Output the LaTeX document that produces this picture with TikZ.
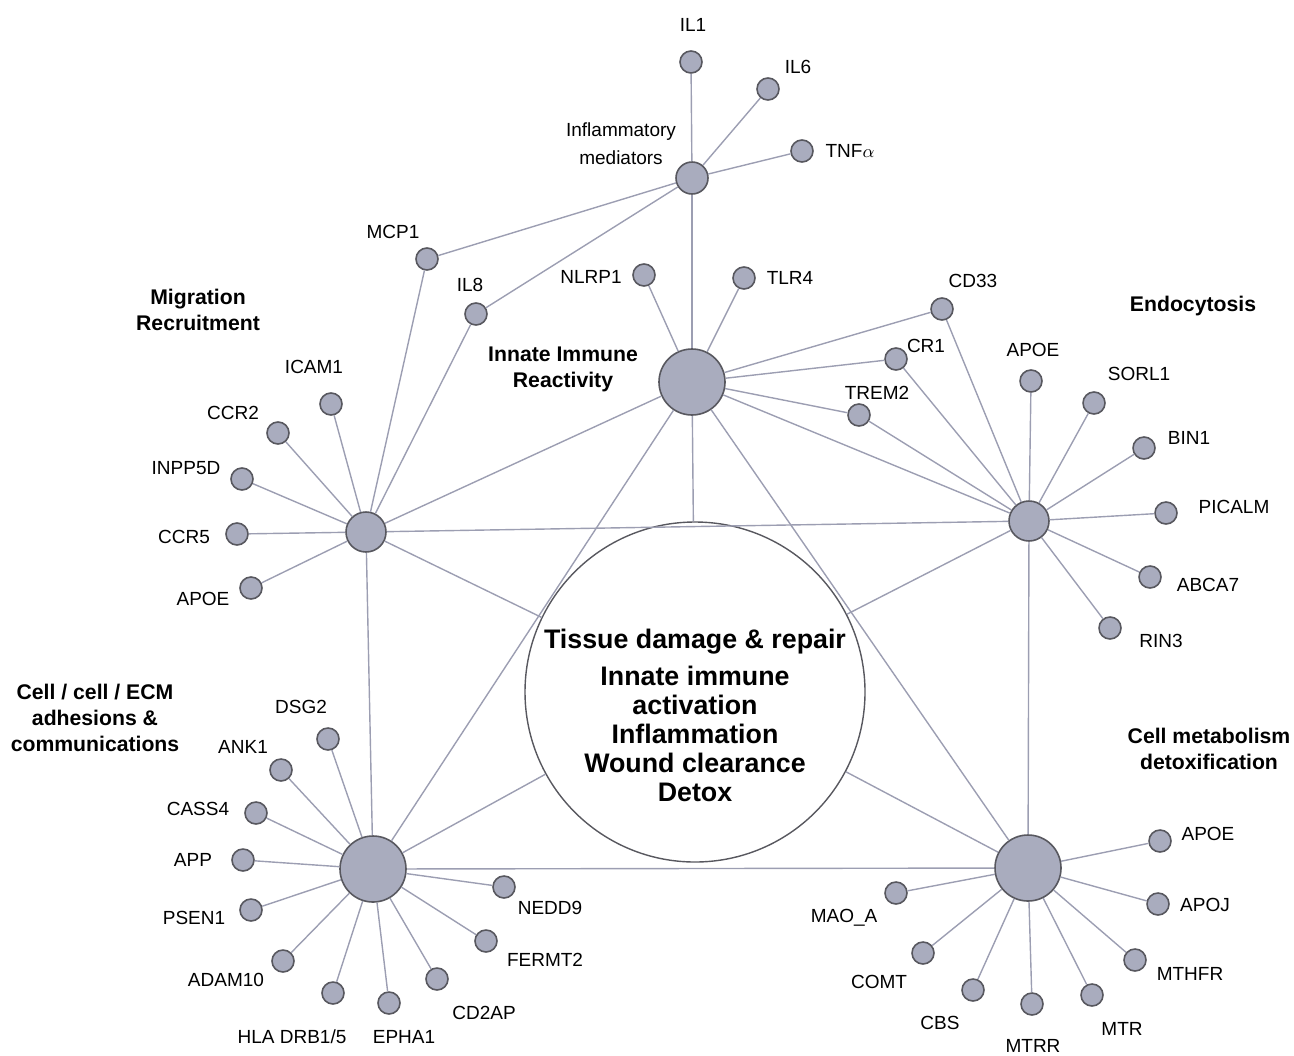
\documentclass[tikz,border=0pt]{standalone}
\usepackage{fontspec}
\setmainfont{Liberation Sans}
\definecolor{nodefill}{HTML}{A9ACBE}
\definecolor{nodeline}{HTML}{58585F}
\definecolor{linkcol}{HTML}{9C9EB2}
\tikzset{
  leaf/.style={circle,fill=nodefill,draw=nodeline,line width=0.8pt,minimum size=11pt,inner sep=0pt},
  hub/.style={leaf,minimum size=20pt},
  bighub/.style={leaf,minimum size=33pt},
  core/.style={circle,draw=nodeline,line width=0.7pt,fill=white,minimum size=170pt,inner sep=0pt},
  link/.style={linkcol,line width=0.7pt},
  lab/.style={font=\fontsize{9.5}{11}\selectfont,inner sep=0pt},
  grp/.style={font=\bfseries\fontsize{10.6}{13}\selectfont,align=center,inner sep=0pt},
}
\begin{document}
\begin{tikzpicture}[x=0.5pt,y=-0.5pt]
  \useasboundingbox (0,0) rectangle (1294,1055);
  % hubs
  \node[core] (core) at (695,692) {};
  \node[hub,minimum size=16pt] (infl) at (692,178) {};
  \node[bighub] (innate) at (692,382) {};
  \node[hub] (migr) at (366,532) {};
  \node[hub] (endo) at (1029,521) {};
  \node[bighub] (adh) at (373,869) {};
  \node[bighub] (meta) at (1028,868) {};
  % inflammatory mediators
  \node[leaf] (il1) at (691,62) {};
  \node[leaf] (il6) at (768,89) {};
  \node[leaf] (tnf) at (802,151) {};
  \node[leaf] (mcp1) at (427,259) {};
  \node[leaf] (il8) at (476,314) {};
  % innate immune
  \node[leaf] (nlrp1) at (644,275) {};
  \node[leaf] (tlr4) at (744,278) {};
  \node[leaf] (cd33) at (942,309) {};
  \node[leaf] (cr1) at (896,359) {};
  \node[leaf] (trem2) at (859,415) {};
  % migration
  \node[leaf] (icam1) at (331,404) {};
  \node[leaf] (ccr2) at (278,433) {};
  \node[leaf] (inpp5d) at (242,479) {};
  \node[leaf] (ccr5) at (237,534) {};
  \node[leaf] (apoeM) at (251,588) {};
  % endocytosis
  \node[leaf] (apoeE) at (1031,381) {};
  \node[leaf] (sorl1) at (1094,403) {};
  \node[leaf] (bin1) at (1144,448) {};
  \node[leaf] (picalm) at (1166,513) {};
  \node[leaf] (abca7) at (1150,577) {};
  \node[leaf] (rin3) at (1110,628) {};
  % adhesions
  \node[leaf] (dsg2) at (328,739) {};
  \node[leaf] (ank1) at (281,770) {};
  \node[leaf] (cass4) at (256,813) {};
  \node[leaf] (app) at (243,860) {};
  \node[leaf] (psen1) at (251,910) {};
  \node[leaf] (adam10) at (283,961) {};
  \node[leaf] (hla) at (333,993) {};
  \node[leaf] (epha1) at (389,1003) {};
  \node[leaf] (cd2ap) at (437,979) {};
  \node[leaf] (fermt2) at (486,941) {};
  \node[leaf] (nedd9) at (504,887) {};
  % metabolism
  \node[leaf] (apoeD) at (1160,841) {};
  \node[leaf] (apoj) at (1158,904) {};
  \node[leaf] (mthfr) at (1135,960) {};
  \node[leaf] (mtr) at (1092,995) {};
  \node[leaf] (mtrr) at (1032,1004) {};
  \node[leaf] (cbs) at (973,990) {};
  \node[leaf] (comt) at (923,953) {};
  \node[leaf] (maoa) at (896,893) {};

  % links
  \draw[link] (infl) -- (il1);
  \draw[link] (infl) -- (il6);
  \draw[link] (infl) -- (tnf);
  \draw[link] (infl) -- (mcp1) -- (migr);
  \draw[link] (infl) -- (il8) -- (migr);
  \draw[link] (infl) -- (innate);
  \draw[link] (innate) -- (nlrp1);
  \draw[link] (innate) -- (tlr4);
  \draw[link] (innate) -- (cd33) -- (endo);
  \draw[link] (innate) -- (cr1) -- (endo);
  \draw[link] (innate) -- (trem2) -- (endo);
  \draw[link] (innate) -- (migr);
  \draw[link] (innate) -- (endo);
  \draw[link] (innate) -- (core);
  \draw[link] (innate) -- (adh);
  \draw[link] (innate) -- (meta);
  \draw[link] (migr) -- (endo);
  \draw[link] (migr) -- (adh);
  \draw[link] (adh) -- (meta);
  \draw[link] (endo) -- (meta);
  \draw[link] (migr) -- (core);
  \draw[link] (endo) -- (core);
  \draw[link] (adh) -- (core);
  \draw[link] (meta) -- (core);
  \foreach \n in {icam1,ccr2,inpp5d,ccr5,apoeM}
    \draw[link] (migr) -- (\n);
  \foreach \n in {apoeE,sorl1,bin1,picalm,abca7,rin3}
    \draw[link] (endo) -- (\n);
  \foreach \n in {dsg2,ank1,cass4,app,psen1,adam10,hla,epha1,cd2ap,fermt2,nedd9}
    \draw[link] (adh) -- (\n);
  \foreach \n in {apoeD,apoj,mthfr,mtr,mtrr,cbs,comt,maoa}
    \draw[link] (meta) -- (\n);

  % labels
  \node[lab] (til1) at (693,25) {IL1};
  \node[lab] (til6) at (798,67) {IL6};
  \node[lab] (ttnf) at (850,151) {TNF$\alpha$};
  \node[lab,align=center,font=\fontsize{9.5}{14}\selectfont] (tinfl) at (621,144) {Inflammatory\\mediators};
  \node[lab] (tmcp1) at (393,232) {MCP1};
  \node[lab] (til8) at (470,285) {IL8};
  \node[lab] (tnlrp1) at (591,277) {NLRP1};
  \node[lab] (ttlr4) at (790,278) {TLR4};
  \node[lab] (tcd33) at (973,281) {CD33};
  \node[lab] (tcr1) at (926,346) {CR1};
  \node[lab] (ttrem2) at (877,393) {TREM2};
  \node[lab] (ticam1) at (314,367) {ICAM1};
  \node[lab] (tccr2) at (233,413) {CCR2};
  \node[lab] (tinpp5d) at (186,468) {INPP5D};
  \node[lab] (tccr5) at (184,537) {CCR5};
  \node[lab] (tapoeM) at (203,599) {APOE};
  \node[lab] (tapoeE) at (1033,350) {APOE};
  \node[lab] (tsorl1) at (1139,374) {SORL1};
  \node[lab] (tbin1) at (1189,438) {BIN1};
  \node[lab] (tpicalm) at (1234,507) {PICALM};
  \node[lab] (tabca7) at (1208,585) {ABCA7};
  \node[lab] (trin3) at (1161,641) {RIN3};
  \node[lab] (tdsg2) at (301,707) {DSG2};
  \node[lab] (tank1) at (243,747) {ANK1};
  \node[lab] (tcass4) at (198,809) {CASS4};
  \node[lab] (tapp) at (193,860) {APP};
  \node[lab] (tpsen1) at (194,918) {PSEN1};
  \node[lab] (tadam10) at (226,980) {ADAM10};
  \node[lab] (thla) at (292,1037) {HLA DRB1/5};
  \node[lab] (tepha1) at (404,1037) {EPHA1};
  \node[lab] (tcd2ap) at (484,1013) {CD2AP};
  \node[lab] (tfermt2) at (545,960) {FERMT2};
  \node[lab] (tnedd9) at (550,908) {NEDD9};
  \node[lab] (tapoeD) at (1208,834) {APOE};
  \node[lab] (tapoj) at (1205,905) {APOJ};
  \node[lab] (tmthfr) at (1190,974) {MTHFR};
  \node[lab] (tmtr) at (1122,1029) {MTR};
  \node[lab] (tmtrr) at (1033,1046) {MTRR};
  \node[lab] (tcbs) at (940,1023) {CBS};
  \node[lab] (tcomt) at (879,982) {COMT};
  \node[lab] (tmaoa) at (844,918) {MAO\_A};

  % group titles
  \node[grp] (gmigr) at (198,310) {Migration\\Recruitment};
  \node[grp] (ginnate) at (563,369) {Innate Immune\\Reactivity};
  \node[grp] (gendo) at (1193,306) {Endocytosis};
  \node[grp] (gadh) at (95,718) {Cell / cell / ECM\\adhesions \&\\communications};
  \node[grp] (gmeta) at (1209,749) {Cell metabolism\\detoxification};
  \node[align=center,inner sep=0pt,font=\bfseries\fontsize{13.4}{14.5}\selectfont] (coretxt) at (695,715)
    {Tissue damage \& repair\\[4pt]Innate immune\\activation\\Inflammation\\Wound clearance\\Detox};
\end{tikzpicture}
\end{document}
